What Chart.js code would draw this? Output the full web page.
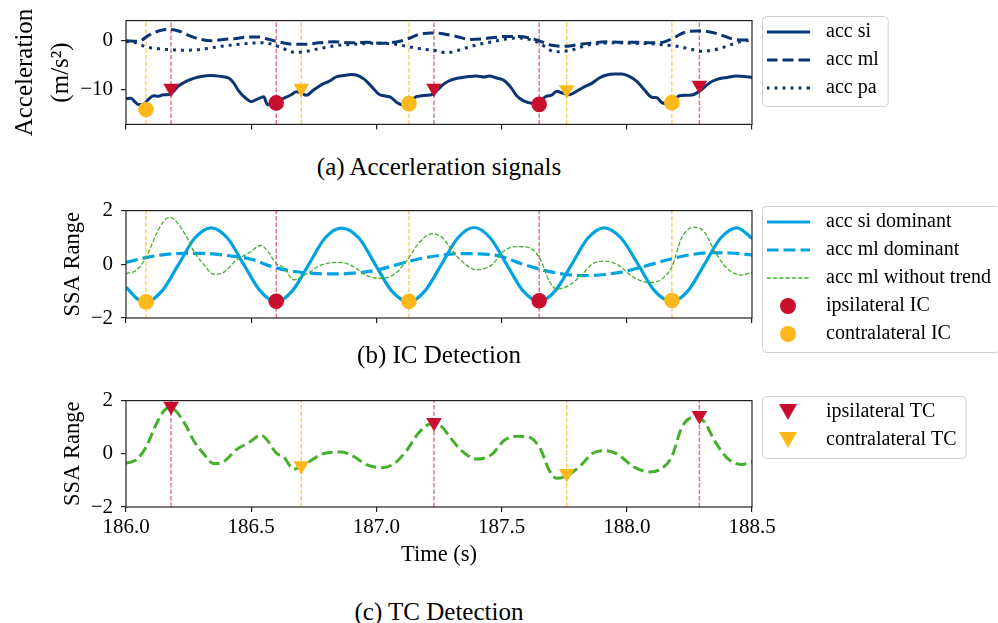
<!DOCTYPE html>
<html>
<head>
<meta charset="utf-8">
<script src="https://cdn.jsdelivr.net/npm/chart.js@4.4.1/dist/chart.umd.min.js"></script>
<style>
  body { margin: 0; background: #fff; width: 998px; height: 623px; position: relative; overflow: hidden;
         font-family: "Liberation Serif", "Times New Roman", serif; }
  canvas { position: absolute; left: 0; }
  .cap { position: absolute; left: 0; width: 878px; text-align: center; font-size: 25px; line-height: 30px; color: #000; }
</style>
</head>
<body>
<canvas id="accChart" width="998" height="145" style="top:0"></canvas>
<div class="cap" style="top:152px">(a) Accerleration signals</div>
<canvas id="icChart" width="998" height="175" style="top:190px"></canvas>
<div class="cap" style="top:340px">(b) IC Detection</div>
<canvas id="tcChart" width="998" height="200" style="top:380px"></canvas>
<div class="cap" style="top:597px">(c) TC Detection</div>
<script>
const xTicks = [186.0, 186.5, 187.0, 187.5, 188.0, 188.5];
const accTicks = [-10, 0];
const ssaTicks = [-2, 0, 2];
const accRange = [-17, 4];
const ssaRange = [-2, 2];

// gait events (s)
const ipsiIC = [186.60, 187.65];
const contraIC = [186.08, 187.13, 188.18];
const ipsiTC = [186.18, 187.23, 188.29];
const contraTC = [186.70, 187.76];

// marker heights per panel
const accIpsiIC = [-12.65, -12.95];
const accContraIC = [-14.0, -12.8, -12.6];
const accIpsiTC = [-9.7, -9.7, -9.1];
const accContraTC = [-9.7, -10.0];
const ssaIpsiIC = [-1.38, -1.36];
const ssaContraIC = [-1.40, -1.38, -1.35];
const tcIpsi = [1.79, 1.18, 1.44];
const tcContra = [-0.45, -0.74];

// [time, value]
const accSi = [[186.00,-11.8],[186.02,-11.7],[186.035,-12.4],[186.05,-13.0],[186.07,-12.9],[186.09,-11.9],[186.11,-11.2],
  [186.13,-11.3],[186.15,-11.0],[186.17,-11.0],[186.19,-10.3],[186.21,-9.2],[186.24,-8.3],[186.27,-7.7],[186.30,-7.3],
  [186.34,-7.1],[186.38,-7.3],[186.41,-7.6],[186.43,-8.6],[186.45,-10.2],[186.48,-11.8],[186.50,-12.4],[186.52,-12.0],
  [186.55,-11.4],[186.565,-13.0],[186.58,-12.9],[186.60,-12.5],[186.62,-11.9],[186.64,-11.5],[186.66,-11.0],[186.68,-10.4],
  [186.70,-10.6],[186.72,-11.1],[186.75,-10.0],[186.78,-9.0],[186.81,-8.3],[186.84,-7.4],[186.87,-7.1],[186.90,-6.9],
  [186.92,-7.0],[186.95,-7.8],[186.98,-9.3],[187.01,-10.9],[187.04,-11.3],[187.06,-11.6],[187.08,-12.5],[187.10,-13.0],
  [187.12,-12.9],[187.14,-12.1],[187.16,-11.4],[187.18,-11.2],[187.20,-11.1],[187.22,-11.0],[187.24,-10.2],[187.27,-8.8],
  [187.30,-8.0],[187.33,-7.6],[187.37,-7.3],[187.40,-7.2],[187.43,-7.4],[187.45,-7.2],[187.48,-7.6],[187.51,-8.1],
  [187.54,-9.7],[187.56,-11.2],[187.59,-12.3],[187.62,-12.7],[187.64,-12.6],[187.66,-12.0],[187.68,-11.3],[187.70,-11.1],
  [187.72,-10.3],[187.74,-10.6],[187.77,-11.0],[187.80,-10.3],[187.83,-9.4],[187.86,-8.7],[187.89,-7.6],[187.92,-7.0],
  [187.95,-6.8],[187.98,-6.8],[188.01,-7.3],[188.04,-8.3],[188.07,-10.0],[188.10,-11.5],[188.12,-11.6],[188.14,-12.6],
  [188.16,-12.8],[188.19,-12.0],[188.21,-11.2],[188.23,-11.1],[188.25,-11.1],[188.27,-10.9],[188.30,-9.9],[188.33,-8.6],
  [188.36,-7.9],[188.40,-7.5],[188.44,-7.2],[188.47,-7.3],[188.50,-7.5]];
const accMl = [[186.00,-0.1],[186.05,-0.2],[186.09,1.0],[186.13,1.9],[186.17,2.2],[186.21,1.9],[186.25,1.0],[186.29,0.3],
  [186.34,-0.1],[186.39,0.2],[186.44,0.4],[186.49,0.7],[186.53,0.7],[186.57,0.2],[186.62,-0.4],[186.67,-0.8],[186.72,-0.8],
  [186.77,-0.5],[186.83,-0.3],[186.90,-0.5],[186.96,-0.4],[187.02,-0.6],[187.08,-0.3],[187.12,0.2],[187.17,1.2],[187.22,1.5],
  [187.27,1.3],[187.32,0.8],[187.37,0.2],[187.42,0.3],[187.47,0.6],[187.52,0.8],[187.57,0.8],[187.61,0.5],[187.65,-0.1],
  [187.70,-1.0],[187.75,-1.2],[187.80,-0.9],[187.86,-0.5],[187.92,-0.3],[187.98,-0.4],[188.04,-0.4],[188.10,-0.5],
  [188.15,-0.3],[188.19,0.6],[188.23,1.6],[188.28,1.9],[188.32,1.8],[188.37,1.2],[188.42,0.3],[188.46,0.1],[188.50,0.2]];
const accPa = [[186.00,-0.2],[186.04,-0.5],[186.08,-1.3],[186.13,-1.7],[186.18,-1.9],[186.23,-2.0],[186.28,-1.9],[186.33,-1.6],
  [186.38,-1.2],[186.43,-0.9],[186.49,-0.6],[186.55,-0.5],[186.59,-0.9],[186.63,-1.7],[186.67,-2.4],[186.70,-2.4],[186.74,-2.0],
  [186.79,-1.5],[186.85,-1.0],[186.91,-0.8],[186.97,-0.6],[187.03,-0.6],[187.09,-0.9],[187.14,-1.4],[187.19,-1.8],[187.24,-2.1],
  [187.28,-2.5],[187.32,-2.1],[187.36,-1.5],[187.41,-0.8],[187.46,-0.3],[187.51,0.2],[187.56,0.5],[187.60,0.3],[187.64,-0.3],
  [187.68,-1.5],[187.71,-2.3],[187.75,-2.2],[187.79,-1.8],[187.84,-1.0],[187.90,-0.6],[187.96,-0.5],[188.03,-0.6],[188.10,-0.7],
  [188.15,-0.9],[188.20,-1.2],[188.25,-1.7],[188.30,-2.2],[188.34,-2.0],[188.38,-1.5],[188.42,-0.8],[188.46,-0.2],[188.50,0.0]];
const siDominant = [[186.00,-0.85],[186.015,-1.0],[186.04,-1.25],[186.08,-1.40],[186.145,-0.98],[186.21,0],[186.275,0.98],
  [186.34,1.36],[186.405,0.98],[186.47,0],[186.535,-0.98],[186.60,-1.40],[186.665,-0.98],[186.73,0],[186.795,0.98],
  [186.86,1.35],[186.93,0.98],[186.995,0],[187.06,-0.98],[187.13,-1.40],[187.195,-0.98],[187.26,0],[187.325,0.98],
  [187.39,1.37],[187.455,0.98],[187.52,0],[187.585,-0.98],[187.65,-1.38],[187.715,-0.98],[187.78,0],[187.845,0.98],
  [187.91,1.36],[187.977,0.98],[188.045,0],[188.11,-0.98],[188.18,-1.38],[188.245,-0.98],[188.31,0],[188.375,0.98],
  [188.44,1.36],[188.50,0.97]];
const mlDominant = [[186.00,0.07],[186.08,0.25],[186.16,0.37],[186.25,0.41],[186.33,0.40],[186.41,0.32],[186.50,0.19],
  [186.58,-0.08],[186.66,-0.25],[186.75,-0.34],[186.83,-0.36],[186.91,-0.33],[187.00,-0.22],[187.08,-0.02],[187.16,0.18],
  [187.25,0.33],[187.33,0.40],[187.41,0.39],[187.50,0.29],[187.58,0.02],[187.66,-0.20],[187.75,-0.37],[187.83,-0.42],
  [187.91,-0.38],[188.00,-0.25],[188.08,-0.05],[188.16,0.16],[188.25,0.35],[188.33,0.43],[188.41,0.42],[188.50,0.35]];
const mlNoTrend = [[186.00,-0.35],[186.04,-0.23],[186.08,0.25],[186.12,1.1],[186.15,1.6],[186.175,1.75],[186.20,1.6],
  [186.24,1.05],[186.27,0.5],[186.31,0.0],[186.35,-0.37],[186.39,-0.3],[186.44,0.15],[186.49,0.42],[186.54,0.7],
  [186.565,0.5],[186.60,0.03],[186.63,-0.12],[186.67,-0.58],[186.72,-0.36],[186.79,0.01],[186.86,0.07],[186.91,-0.10],
  [186.96,-0.41],[187.02,-0.52],[187.07,-0.38],[187.12,0.12],[187.17,0.8],[187.22,1.13],[187.26,1.02],[187.30,0.55],
  [187.34,0.12],[187.40,-0.2],[187.46,-0.03],[187.51,0.5],[187.56,0.66],[187.61,0.62],[187.655,0.18],[187.69,-0.62],
  [187.72,-0.92],[187.76,-0.83],[187.82,-0.4],[187.86,0.0],[187.91,0.12],[187.96,0.0],[188.03,-0.5],[188.09,-0.68],
  [188.14,-0.55],[188.18,-0.1],[188.22,1.0],[188.27,1.38],[188.31,1.2],[188.35,0.5],[188.40,-0.15],[188.46,-0.4],[188.50,-0.3]];

const SERIF = '"Liberation Serif", "Times New Roman", serif';
const NAVY = '#0a3574';
const BLUE = '#00a3e0';
const GREEN = '#44b02c';
const RED = '#c8102e';
const GOLD = '#ffb81c';
const RED_LINE = 'rgba(200,16,46,0.6)';
const GOLD_LINE = 'rgba(255,184,28,0.7)';

// legend glyphs
function lineGlyph(color, width, dash) {
  const c = document.createElement('canvas');
  c.width = 43; c.height = 10;
  const g = c.getContext('2d');
  g.strokeStyle = color; g.lineWidth = width; g.setLineDash(dash);
  g.beginPath(); g.moveTo(0, 5); g.lineTo(43, 5); g.stroke();
  return c;
}
function dotGlyph(color) {
  const c = document.createElement('canvas');
  c.width = 18; c.height = 18;
  const g = c.getContext('2d');
  g.fillStyle = color; g.beginPath(); g.arc(9, 9, 8, 0, Math.PI * 2); g.fill();
  return c;
}
function triGlyph(color) {
  const c = document.createElement('canvas');
  c.width = 18; c.height = 16;
  const g = c.getContext('2d');
  g.fillStyle = color; g.beginPath(); g.moveTo(0, 0); g.lineTo(18, 0); g.lineTo(9, 16); g.closePath(); g.fill();
  return c;
}

const pts = pairs => pairs.map(([x, y]) => ({x, y}));
const at = (times, vals) => times.map((x, i) => ({x, y: vals[i]}));

function curve(label, pairs, color, width, dash, order) {
  return {label, data: pts(pairs), borderColor: color, backgroundColor: color, borderWidth: width,
    borderDash: dash, pointRadius: 0, cubicInterpolationMode: 'monotone', order,
    glyph: lineGlyph(color, width, dash)};
}
function markers(label, times, vals, color, kind) {
  const tri = kind === 'tri';
  return {label, data: at(times, vals), showLine: false, pointStyle: tri ? 'triangle' : 'circle',
    rotation: tri ? 180 : 0, pointRadius: tri ? 9 : 7.8, backgroundColor: color, borderColor: color,
    borderWidth: 0, order: 0, glyph: tri ? triGlyph(color) : dotGlyph(color)};
}
function vlines(times, color, range) {
  return times.map(t => ({label: '', data: [{x: t, y: range[0]}, {x: t, y: range[1]}],
    borderColor: color, borderWidth: 1.4, borderDash: [4.5, 2], pointRadius: 0, order: 9}));
}

const frame = {
  id: 'frame',
  afterDatasetsDraw(chart) {
    const {ctx, chartArea: a} = chart;
    ctx.save();
    ctx.strokeStyle = '#222'; ctx.lineWidth = 1.2;
    ctx.strokeRect(a.left, a.top, a.right - a.left, a.bottom - a.top);
    ctx.restore();
  }
};

const legendFrame = {
  id: 'legendFrame',
  beforeUpdate(chart, args, opts) {
    const lg = chart.legend;
    if (lg && !lg._fixedFit) {
      const fit = lg.fit;
      lg.fit = function () { fit.call(this); this.width = opts.width; };
      lg._fixedFit = true;
    }
  },
  afterLayout(chart, args, opts) {
    chart.legend.top += opts.dy;
    chart.legend.bottom += opts.dy;
  },
  afterDraw(chart) {
    const hb = chart.legend.legendHitBoxes;
    if (!hb || !hb.length) return;
    const ctx = chart.ctx;
    const last = hb[hb.length - 1];
    const left = hb[0].left + 2;
    const top = hb[0].top - 6;
    const right = Math.max(...hb.map(b => b.left + b.width)) + 9;
    const bottom = last.top + last.height + 8;
    ctx.save();
    ctx.strokeStyle = '#d2d2d2'; ctx.lineWidth = 1;
    ctx.beginPath();
    ctx.roundRect(left + 0.5, top + 0.5, right - left, bottom - top, 4);
    ctx.stroke();
    ctx.restore();
  }
};

function makeChart(id, datasets, cfg) {
  const tickFont = {family: SERIF, size: 21};
  const gridOpts = {drawOnChartArea: false, drawTicks: true, tickLength: 5, color: '#222', lineWidth: 1.2};
  return new Chart(document.getElementById(id), {
    type: 'line',
    data: {datasets},
    plugins: [frame, legendFrame],
    options: {
      responsive: false,
      animation: false,
      events: [],
      layout: {padding: {top: cfg.padTop, left: 0, right: 0, bottom: 0}},
      plugins: {
        tooltip: {enabled: false},
        legendFrame: {width: 246, dy: cfg.dy},
        legend: {
          position: 'right', align: 'start',
          labels: {
            usePointStyle: true, pointStyleWidth: 56, boxHeight: 20, padding: 8,
            font: {family: SERIF, size: 20}, color: '#000',
            generateLabels(chart) {
              const items = Chart.defaults.plugins.legend.labels.generateLabels(chart);
              return items.filter(it => chart.data.datasets[it.datasetIndex].label)
                .sort((a, b) => a.datasetIndex - b.datasetIndex)
                .map(it => Object.assign(it, {pointStyle: chart.data.datasets[it.datasetIndex].glyph, rotation: 0}));
            }
          }
        }
      },
      scales: {
        x: {
          type: 'linear', min: xTicks[0], max: xTicks[xTicks.length - 1],
          afterBuildTicks: s => { s.ticks = xTicks.map(v => ({value: v})); },
          afterFit: s => { s.height = cfg.xHeight; },
          grid: gridOpts, border: {display: false},
          ticks: {display: cfg.xLabels, font: tickFont, color: '#000', padding: 3, maxRotation: 0,
            autoSkip: false, callback: v => v.toFixed(1)},
          title: cfg.xTitle
            ? {display: true, text: cfg.xTitle, font: {family: SERIF, size: 22.5, lineHeight: 1.2}, color: '#000',
               padding: {top: 0, bottom: 11.5}}
            : {display: false}
        },
        y: {
          type: 'linear', min: cfg.yRange[0], max: cfg.yRange[1],
          afterBuildTicks: s => { s.ticks = cfg.yTicks.map(v => ({value: v})); },
          afterFit: s => { s.width = 126; },
          grid: gridOpts, border: {display: false},
          ticks: {font: tickFont, color: '#000', padding: 8, autoSkip: false,
            callback: v => v < 0 ? '\u2212' + Math.abs(v) : String(v)},
          title: {display: true, text: cfg.yTitle, font: cfg.yTitleFont, color: '#000',
            padding: {top: cfg.yTitlePad, bottom: 0}}
        }
      }
    }
  });
}

makeChart('accChart', [
  curve('acc si', accSi, NAVY, 3, [], 1),
  curve('acc ml', accMl, NAVY, 3, [11, 5], 2),
  curve('acc pa', accPa, NAVY, 3, [3, 5], 3),
  markers('', ipsiIC, accIpsiIC, RED, 'dot'),
  markers('', contraIC, accContraIC, GOLD, 'dot'),
  markers('', ipsiTC, accIpsiTC, RED, 'tri'),
  markers('', contraTC, accContraTC, GOLD, 'tri'),
  ...vlines(ipsiIC.concat(ipsiTC), RED_LINE, accRange),
  ...vlines(contraIC.concat(contraTC), GOLD_LINE, accRange)
], {padTop: 18, xHeight: 16, dy: -4, xLabels: false, yRange: accRange, yTicks: accTicks,
    yTitle: ['Acceleration', '(m/s\u00b2)'], yTitleFont: {family: SERIF, size: 25, lineHeight: 1.45}, yTitlePad: 7});

makeChart('icChart', [
  curve('acc si dominant', siDominant, BLUE, 3.2, [], 3),
  curve('acc ml dominant', mlDominant, BLUE, 3.2, [12, 5], 2),
  curve('acc ml without trend', mlNoTrend, GREEN, 1.3, [4.4, 1.9], 1),
  markers('ipsilateral IC', ipsiIC, ssaIpsiIC, RED, 'dot'),
  markers('contralateral IC', contraIC, ssaContraIC, GOLD, 'dot'),
  ...vlines(ipsiIC, RED_LINE, ssaRange),
  ...vlines(contraIC, GOLD_LINE, ssaRange)
], {padTop: 17, xHeight: 47, dy: -3, xLabels: false, yRange: ssaRange, yTicks: ssaTicks,
    yTitle: 'SSA Range', yTitleFont: {family: SERIF, size: 22.5, lineHeight: 1.2}, yTitlePad: 59.5});

makeChart('tcChart', [
  markers('ipsilateral TC', ipsiTC, tcIpsi, RED, 'tri'),
  markers('contralateral TC', contraTC, tcContra, GOLD, 'tri'),
  Object.assign(curve('', mlNoTrend, GREEN, 3, [11, 4.8], 1), {glyph: null}),
  ...vlines(ipsiTC, RED_LINE, ssaRange),
  ...vlines(contraTC, GOLD_LINE, ssaRange)
], {padTop: 16, xHeight: 73, dy: -2, xLabels: true, xTitle: 'Time (s)', yRange: ssaRange, yTicks: ssaTicks,
    yTitle: 'SSA Range', yTitleFont: {family: SERIF, size: 22.5, lineHeight: 1.2}, yTitlePad: 59.5});
</script>
</body>
</html>
